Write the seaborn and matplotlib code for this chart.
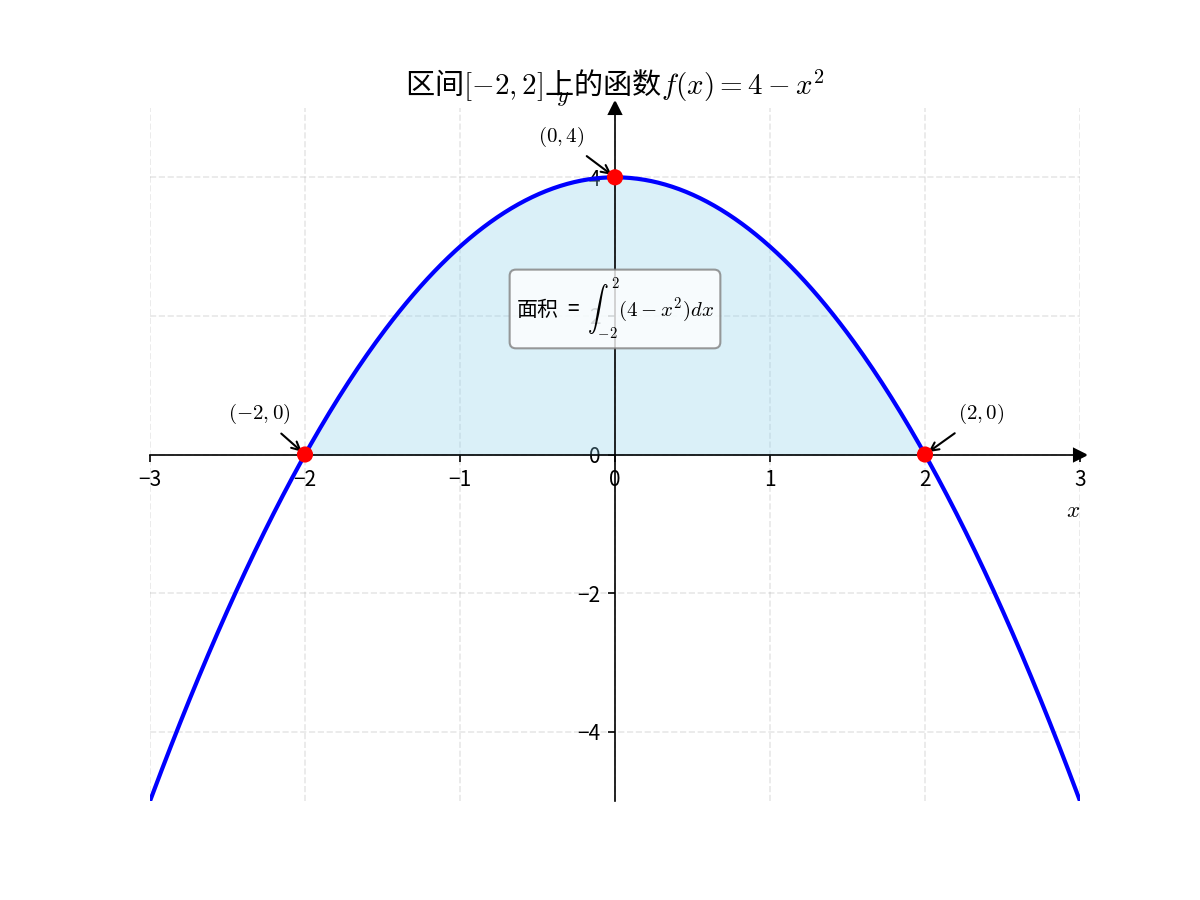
import numpy as np
import matplotlib
matplotlib.use('Agg')
import matplotlib.pyplot as plt
import seaborn as sns

# data
x_min, x_max = -3, 3
y_min, y_max = -5, 5
a, b = -2, 2
x_ticks = [-3, -2, -1, 0, 1, 2, 3]
y_ticks = [-4, -2, 0, 2, 4]
key_x = [-2, 0, 2]
key_y = [0, 4, 0]
key_labels = ['$(-2,0)$', '$(0,4)$', '$(2,0)$']
key_offsets = [(-37, 17), (-37, 17), (16, 17)]

title = '区间$[-2,2]$上的函数$f(x)=4-x^2$'
area_text = '面积  =  $\\int_{-2}^{2}(4-x^2)dx$'

sns.set_style('ticks', rc={'axes.edgecolor': 'black', 'text.color': 'black',
                           'axes.labelcolor': 'black', 'xtick.color': 'black',
                           'ytick.color': 'black'})
plt.rcParams['font.family'] = ['Noto Sans CJK SC', 'DejaVu Sans']
plt.rcParams['mathtext.fontset'] = 'cm'

x_curve = np.linspace(x_min, x_max, 400)
y_curve = 4 - x_curve ** 2
x_fill = np.linspace(a, b, 200)
y_fill = 4 - x_fill ** 2

fig, ax = plt.subplots(figsize=(8, 6), dpi=150)

sns.lineplot(x=x_curve, y=y_curve, color='blue', linewidth=2, ax=ax)
ax.fill_between(x_fill, y_fill, 0, color='skyblue', alpha=0.3)
sns.scatterplot(x=key_x, y=key_y, color='red', s=60, edgecolor='none', zorder=5, ax=ax)

for px, py, lab, off in zip(key_x, key_y, key_labels, key_offsets):
    ax.annotate(lab, xy=(px, py), xytext=off, textcoords='offset points',
                fontsize=10, arrowprops=dict(arrowstyle='->', color='black'))

ax.text(0, 2.1, area_text, ha='center', va='center', fontsize=10,
        bbox=dict(boxstyle='round', facecolor='white', edgecolor='gray', alpha=0.8))

# axes through origin
ax.spines['left'].set_position('zero')
ax.spines['bottom'].set_position('zero')
ax.spines['top'].set_visible(False)
ax.spines['right'].set_visible(False)
ax.plot(1, 0, '>k', transform=ax.get_yaxis_transform(), clip_on=False)
ax.plot(0, 1, '^k', transform=ax.get_xaxis_transform(), clip_on=False)

ax.set_xlim(x_min, x_max)
ax.set_ylim(y_min, y_max)
ax.set_xticks(x_ticks)
ax.set_yticks(y_ticks)
ax.grid(True, linestyle='--', color='#b0b0b0', alpha=0.3)

ax.set_xlabel('$x$', loc='right', fontsize=11)
ax.set_ylabel('$y$', loc='top', rotation=0, fontsize=11)
ax.set_title(title, fontsize=14)

plt.savefig('out.png')
